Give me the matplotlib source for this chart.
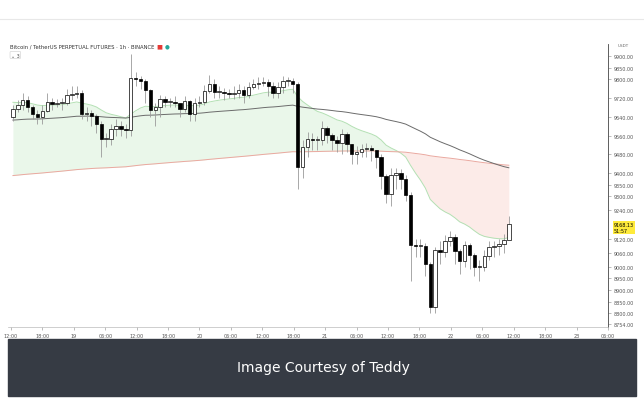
import matplotlib
matplotlib.use("Agg")
import matplotlib.pyplot as plt
import numpy as np

first_open = 9639
closes = [9673,9691,9712,9682,9652,9639,9665,9703,9695,9699,9699,9733,9738,9742,9652,9656,9644,9609,9545,9545,
          9588,9601,9588,9584,9806,9802,9793,9755,9669,9682,9716,9703,9703,9699,9673,9708,9652,9699,9703,9750,
          9780,9746,9746,9742,9738,9742,9755,9733,9767,9780,9785,9789,9772,9742,9767,9793,9793,9780,9426,9511,
          9545,9541,9541,9592,9562,9541,9528,9567,9524,9481,9490,9502,9507,9498,9468,9387,9310,9391,9400,9374,
          9306,9092,9088,9088,9011,8827,9071,9062,9109,9126,9067,9024,9092,9050,8998,8998,9045,9084,9088,9097,
          9114,9182]
highs = [9690,9710,9740,9730,9690,9670,9690,9740,9720,9715,9720,9760,9770,9770,9755,9680,9670,9650,9620,9570,
         9610,9630,9620,9610,9910,9830,9815,9800,9760,9700,9735,9730,9720,9730,9700,9730,9710,9720,9730,9775,
         9820,9800,9770,9765,9760,9770,9780,9770,9790,9800,9810,9810,9800,9790,9790,9815,9810,9805,9790,9540,
         9575,9570,9560,9620,9600,9570,9560,9590,9575,9525,9515,9525,9530,9520,9500,9480,9395,9420,9420,9415,
         9390,9320,9120,9120,9100,9020,9085,9110,9135,9150,9140,9075,9110,9100,9060,9030,9070,9110,9110,9120,
         9140,9215]
lows = [9620,9660,9670,9660,9630,9610,9610,9660,9670,9680,9670,9690,9710,9720,9630,9620,9600,9570,9470,9510,
        9520,9560,9560,9550,9560,9770,9760,9700,9640,9600,9640,9680,9680,9680,9640,9660,9620,9620,9680,9690,
        9740,9720,9720,9710,9720,9715,9720,9700,9720,9760,9760,9770,9730,9720,9720,9740,9770,9740,9330,9380,
        9470,9500,9500,9520,9530,9500,9490,9480,9490,9440,9440,9470,9470,9450,9420,9330,9270,9260,9330,9330,
        9280,8940,9040,9040,8960,8800,8800,9010,9040,9090,9010,8970,9000,8990,8960,8940,8980,9030,9040,9050,
        9060,9140]
tick_labels = ["12:00","18:00","19","06:00","12:00","18:00","20","06:00","12:00","18:00","21","06:00",
               "12:00","18:00","22","06:00","12:00","18:00","23","06:00"]
ytick_vals = [9900,9850,9800,9720,9640,9560,9480,9400,9350,9300,9240,9120,9060,9000,8950,8900,8850,8800,8754]

opens = [first_open] + closes[:-1]
n = len(closes)
idx = np.arange(n)

def ema(vals, period, seed):
    out, e = [], seed
    a = 2.0 / (period + 1)
    for v in vals:
        e = e + a * (v - e)
        out.append(e)
    return np.array(out)

fast = ema(closes, 20, 9705)
mid = ema(closes, 100, 9625)
slow = ema(closes, 300, 9387)

fig = plt.figure(figsize=(6.44, 4.02), dpi=100)
fig.patch.set_facecolor("white")
W, H = 644, 402
ax = fig.add_axes([8/W, 1-328/H, 600/W, 283/H])
ax.set_facecolor("white")

ax.fill_between(idx, fast, slow, where=fast >= slow, color="#eaf7ea", interpolate=True, lw=0)
ax.fill_between(idx, fast, slow, where=fast < slow, color="#fcebe8", interpolate=True, lw=0)
ax.plot(idx, fast, color="#b3e0b3", lw=0.7)
ax.plot(idx, slow, color="#eaa89f", lw=0.7)
ax.plot(idx, mid, color="#6b6b6b", lw=0.7)

for i in range(n):
    o, c, h, l = opens[i], closes[i], highs[i], lows[i]
    ax.vlines(i, l, h, color="#9a9a9a", lw=0.6, zorder=2)
    bottom, height = min(o, c), max(abs(c - o), 2.5)
    if c >= o:
        ax.bar(i, height, 0.7, bottom=bottom, color="white", edgecolor="black", lw=0.5, zorder=3)
    else:
        ax.bar(i, height, 0.7, bottom=bottom, color="black", edgecolor="black", lw=0.5, zorder=3)

ax.set_ylim(8742, 9951)
step = 6.4
ax.set_xlim(-1.0, -1.0 + 600/4.95)
ax.set_xticks([k*step - 0.4 for k in range(len(tick_labels))])
ax.set_xticklabels(tick_labels, fontsize=3.5, color="#555")
ax.yaxis.tick_right()
ax.set_yticks(ytick_vals)
ax.set_yticklabels([f"{v:.2f}" for v in ytick_vals], fontsize=3.5, color="#555")
ax.tick_params(length=2, width=0.4, color="#888", pad=2)
for s in ["top", "left"]:
    ax.spines[s].set_visible(False)
ax.spines["right"].set_color("#444"); ax.spines["right"].set_linewidth(0.6)
ax.spines["bottom"].set_color("#bbb"); ax.spines["bottom"].set_linewidth(0.5)

ax.text(1.01, 9168, "9168.13\n51:57", transform=ax.get_yaxis_transform(), fontsize=3.5,
        va="center", ha="left", bbox=dict(boxstyle="square,pad=0.2", fc="#ffeb3b", ec="none"), zorder=5)

fig.text(10/W, 1-47/H, "Bitcoin / TetherUS PERPETUAL FUTURES · 1h · BINANCE", fontsize=3.8, color="#333", va="center")
fig.text(156/W, 1-47/H, "■", fontsize=4.5, color="#e53935", va="center")
fig.text(165/W, 1-47/H, "●", fontsize=4, color="#26a69a", va="center")
fig.text(11/W, 1-56/H, "⌄ 3", fontsize=3.5, color="#555", va="center",
         bbox=dict(boxstyle="round,pad=0.2", fc="white", ec="#ccc", lw=0.4))
fig.text(618/W, 1-46/H, "USDT", fontsize=3, color="#666", va="center")

fig.add_artist(plt.Line2D([0, 1], [1-20/H, 1-20/H], color="#e8e8e8", lw=0.8))
fig.patches.append(plt.Rectangle((8/W, 5/H), 628/W, 57/H, transform=fig.transFigure, color="#363b44", zorder=0))
fig.text(323/W, 1-368/H, "Image Courtesy of Teddy", fontsize=10, color="white", ha="center", va="center")

fig.savefig("out.png", dpi=100)
